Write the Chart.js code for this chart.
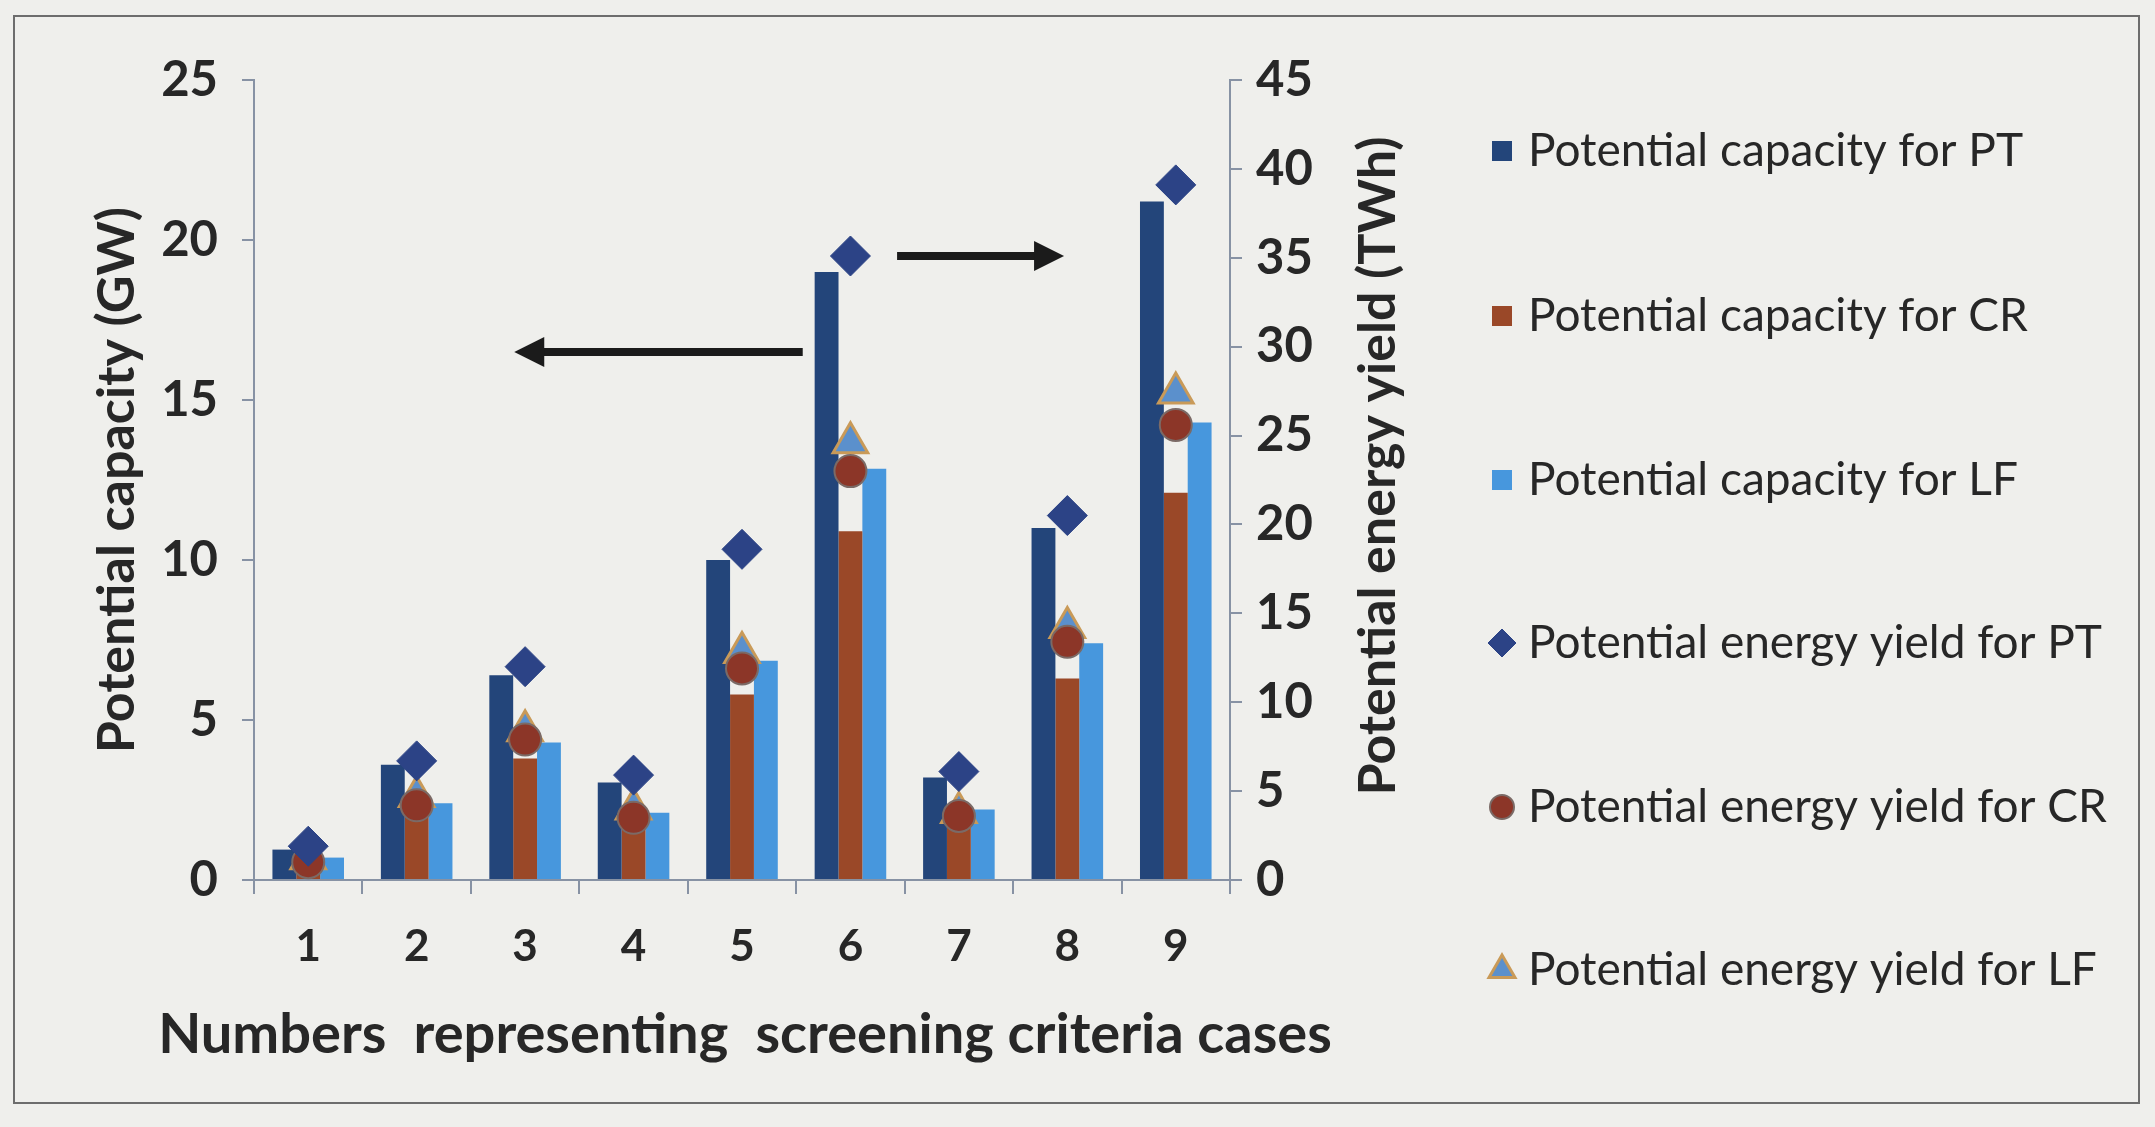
<!DOCTYPE html>
<html>
<head>
<meta charset="utf-8">
<script src="https://cdn.jsdelivr.net/npm/chart.js@4.4.1/dist/chart.umd.min.js"></script>
<style>
  html, body { margin: 0; padding: 0; background: #efefec; }
  #wrap { width: 2155px; height: 1127px; }
</style>
</head>
<body>
<div id="wrap"><canvas id="chart" width="2155" height="1127"></canvas></div>
<script>
// values (GW on the left axis, TWh on the right)
const categories = ['1', '2', '3', '4', '5', '6', '7', '8', '9'];
const capacityPT = [0.95, 3.6, 6.4, 3.05, 10.0, 19.0, 3.2, 11.0, 21.2];
const capacityCR = [0.5, 2.0, 3.8, 1.6, 5.8, 10.9, 1.7, 6.3, 12.1];
const capacityLF = [0.7, 2.4, 4.3, 2.1, 6.85, 12.85, 2.2, 7.4, 14.3];
const energyPT = [1.9, 6.7, 12.0, 5.9, 18.6, 35.1, 6.1, 20.5, 39.1];
const energyCR = [1.0, 4.2, 7.9, 3.5, 11.9, 23.0, 3.6, 13.4, 25.6];
const energyLF = [1.2, 4.7, 8.4, 4.0, 12.8, 24.6, 3.8, 14.2, 27.4];
const capacityTicks = [0, 5, 10, 15, 20, 25];
const energyTicks = [0, 5, 10, 15, 20, 25, 30, 35, 40, 45];

const AXIS = '#8792a4';
const INK = '#272727';
const FAMILY = 'Lato, "Open Sans", sans-serif';

Chart.defaults.font.family = FAMILY;
Chart.defaults.color = INK;

// paper + frame
const paper = {
  id: 'paper',
  beforeDraw(chart) {
    const { ctx, width, height } = chart;
    ctx.save();
    ctx.fillStyle = '#efefec';
    ctx.fillRect(0, 0, width, height);
    ctx.strokeStyle = '#6d6d6d';
    ctx.lineWidth = 2;
    ctx.strokeRect(14, 16, width - 30, height - 40);
    ctx.restore();
  }
};

// the two pointer arrows (in data units)
const arrows = {
  id: 'arrows',
  afterDraw(chart) {
    const { ctx, scales } = chart;
    const draw = (x0, x1, y) => {
      const px0 = scales.x.getPixelForValue(x0);
      const px1 = scales.x.getPixelForValue(x1);
      const dir = Math.sign(px1 - px0);
      const head = 30;
      ctx.save();
      ctx.strokeStyle = '#1b1b1b';
      ctx.fillStyle = '#1b1b1b';
      ctx.lineWidth = 8;
      ctx.beginPath();
      ctx.moveTo(px0, y);
      ctx.lineTo(px1 - dir * head * 0.8, y);
      ctx.stroke();
      ctx.beginPath();
      ctx.moveTo(px1, y);
      ctx.lineTo(px1 - dir * head, y - 15);
      ctx.lineTo(px1 - dir * head, y + 15);
      ctx.closePath();
      ctx.fill();
      ctx.restore();
    };
    draw(4.56, 1.9, scales.y.getPixelForValue(16.5));
    draw(5.43, 6.97, scales.y2.getPixelForValue(35.1));
  }
};

// x title (wider than the plot, so drawn unclamped), right title read
// bottom-to-top, and the legend column
const extras = {
  id: 'extras',
  afterDraw(chart) {
    const { ctx, chartArea } = chart;
    ctx.save();
    ctx.fillStyle = INK;
    ctx.font = 'bold 56px ' + FAMILY;
    ctx.textAlign = 'center';
    ctx.textBaseline = 'middle';
    ctx.fillText('Numbers  representing  screening criteria cases',
      (chartArea.left + chartArea.right) / 2 + 3, chartArea.bottom + 155);
    ctx.restore();

    ctx.save();
    ctx.fillStyle = INK;
    ctx.font = 'bold 52px ' + FAMILY;
    ctx.textAlign = 'center';
    ctx.textBaseline = 'middle';
    ctx.translate(chartArea.right + 148, (chartArea.top + chartArea.bottom) / 2 - 14);
    ctx.rotate(-Math.PI / 2);
    ctx.fillText('Potential energy yield (TWh)', 0, 0);
    ctx.restore();

    const lx = chartArea.right + 272;
    const rows = [151, 316, 480, 643, 807, 970];
    chart.data.datasets.forEach((ds, i) => {
      const y = rows[i];
      ctx.save();
      if (ds.type === 'line') {
        ctx.fillStyle = ds.pointBackgroundColor;
        ctx.strokeStyle = ds.pointBorderColor;
        ctx.lineWidth = ds.pointBorderWidth;
        Chart.helpers.drawPoint(ctx, {
          pointStyle: ds.pointStyle,
          radius: ds.legendRadius,
          borderWidth: ds.pointBorderWidth
        }, lx, y);
      } else {
        ctx.fillStyle = ds.backgroundColor;
        ctx.fillRect(lx - 10, y - 10, 20, 20);
      }
      ctx.fillStyle = INK;
      ctx.font = '46px ' + FAMILY;
      ctx.textAlign = 'left';
      ctx.textBaseline = 'middle';
      ctx.fillText(ds.label, lx + 26, y);
      ctx.restore();
    });
  }
};

const barDs = (label, data, color) => ({
  type: 'bar', label, data, backgroundColor: color, yAxisID: 'y', order: 2,
  barPercentage: 1.0, categoryPercentage: 0.66
});
const markDs = (label, data, style, fill, stroke, bw, r, lr) => ({
  type: 'line', label, data, yAxisID: 'y2', showLine: false,
  pointStyle: style, pointRadius: r, pointHoverRadius: r,
  pointBackgroundColor: fill, pointBorderColor: stroke, pointBorderWidth: bw,
  legendRadius: lr, order: 1
});

new Chart(document.getElementById('chart'), {
  data: {
    labels: categories,
    datasets: [
      barDs('Potential capacity for PT', capacityPT, '#23457a'),
      barDs('Potential capacity for CR', capacityCR, '#9a4828'),
      barDs('Potential capacity for LF', capacityLF, '#4797dd'),
      markDs('Potential energy yield for PT', energyPT, 'rectRot', '#2c4386', '#2c4386', 1, 20, 14),
      markDs('Potential energy yield for CR', energyCR, 'circle', '#8c3628', '#7b6a66', 2, 16, 12),
      markDs('Potential energy yield for LF', energyLF, 'triangle', '#5b90cc', '#c99a58', 3, 20, 15)
    ]
  },
  options: {
    responsive: false,
    animation: false,
    layout: { padding: { left: 0, top: 80, right: 735, bottom: 20 } },
    plugins: { legend: { display: false }, tooltip: { enabled: false } },
    scales: {
      x: {
        grid: { drawOnChartArea: false, drawTicks: true, tickLength: 14, color: AXIS, lineWidth: 2, offset: true },
        border: { display: true, color: AXIS, width: 2 },
        ticks: { font: { size: 44, weight: 'bold' }, color: INK, padding: 26 },
        afterFit(s) { s.height = 227; }
      },
      y: {
        position: 'left', min: 0, max: 25,
        afterBuildTicks(s) { s.ticks = capacityTicks.map(v => ({ value: v })); },
        grid: { drawOnChartArea: false, tickLength: 12, color: AXIS, lineWidth: 2 },
        border: { display: true, color: AXIS, width: 2 },
        ticks: { font: { size: 49, weight: 'bold' }, color: INK, padding: 24 },
        title: {
          display: true, text: 'Potential capacity (GW)',
          font: { size: 52, weight: 'bold' }, color: INK, padding: { top: 86, bottom: 0 }
        },
        afterFit(s) { s.width = 254; }
      },
      y2: {
        position: 'right', min: 0, max: 45,
        afterBuildTicks(s) { s.ticks = energyTicks.map(v => ({ value: v })); },
        grid: { drawOnChartArea: false, tickLength: 12, color: AXIS, lineWidth: 2 },
        border: { display: true, color: AXIS, width: 2 },
        ticks: { font: { size: 49, weight: 'bold' }, color: INK, padding: 14 },
        afterFit(s) { s.width = 190; }
      }
    }
  },
  plugins: [paper, arrows, extras]
});
</script>
</body>
</html>
